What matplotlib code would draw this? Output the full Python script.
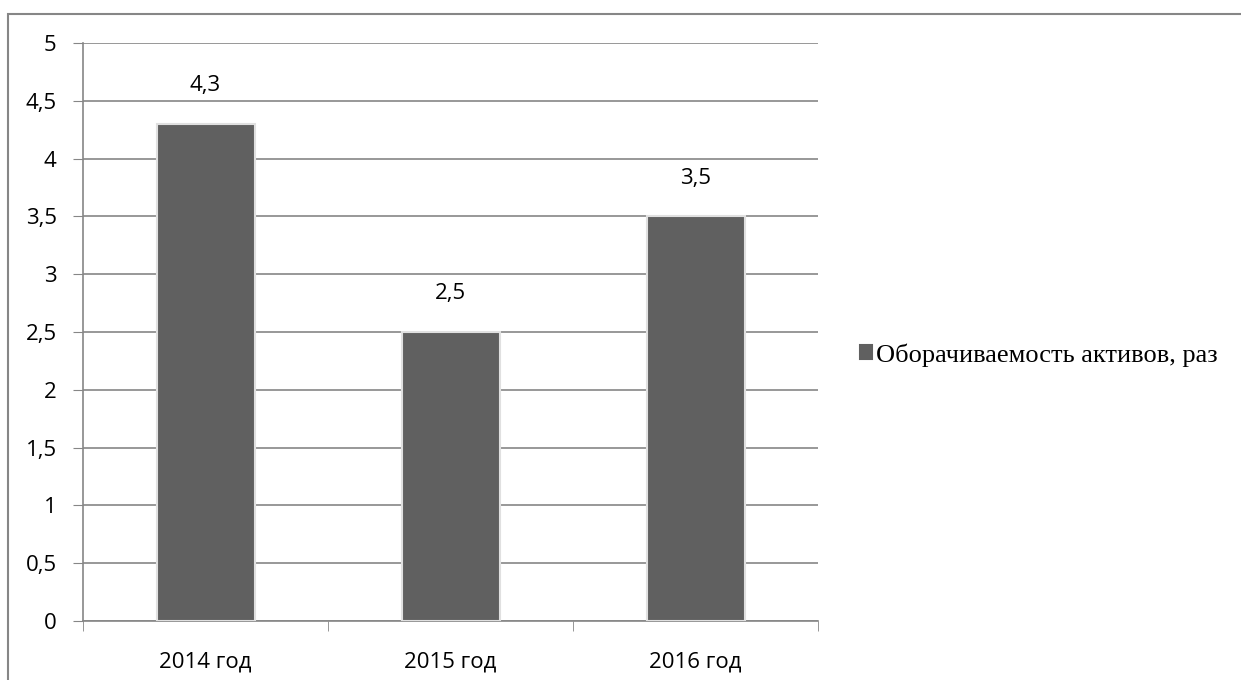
import matplotlib.pyplot as plt
from matplotlib.patches import Rectangle

years = ['2014 год', '2015 год', '2016 год']
values = [4.3, 2.5, 3.5]
yticks = [0, 0.5, 1, 1.5, 2, 2.5, 3, 3.5, 4, 4.5, 5]
series_name = 'Оборачиваемость активов, раз'

def fmt(v):
    return f'{v:g}'.replace('.', ',')

fig = plt.figure(figsize=(12.41, 6.80), dpi=100)
ax = fig.add_axes([83 / 1241, 1 - 621 / 680, 735 / 1241, 578 / 680])

# рамка вокруг диаграммы
fig.patches.append(Rectangle((8 / 1241, -0.01), 1.1, 1 - 14 / 680 + 0.01,
                             transform=fig.transFigure, fill=False,
                             edgecolor='#868686', linewidth=1.5))

x = range(len(years))
bars = ax.bar(x, values, width=0.4, color='#606060', edgecolor='#e0e0e0',
              linewidth=1.5, label=series_name, zorder=3)

for xi, v in zip(x, values):
    ax.text(xi, v + 0.24, fmt(v), ha='center', va='bottom',
            fontsize=16, family='Open Sans')

ax.set_xlim(-0.5, 2.5)
ax.set_ylim(0, 5)
ax.set_yticks(yticks)
ax.set_yticklabels([fmt(t) for t in yticks], family='Open Sans', fontsize=16)
ax.set_xticks(list(x))
ax.set_xticklabels(years, family='Open Sans', fontsize=16)
ax.set_xticks([-0.5, 0.5, 1.5, 2.5], minor=True)
ax.tick_params(axis='x', which='major', length=0, pad=22)
ax.tick_params(axis='x', which='minor', length=7, color='#868686')
ax.tick_params(axis='y', length=7, color='#868686', pad=12)

ax.grid(axis='y', color='#868686', linewidth=1.2, zorder=0)
for s in ['top', 'right']:
    ax.spines[s].set_visible(False)
for s in ['left', 'bottom']:
    ax.spines[s].set_color('#868686')
    ax.spines[s].set_linewidth(1.2)

leg = fig.legend(handles=[bars], labels=[series_name], loc='center left',
                 bbox_to_anchor=(836 / 1241, 1 - 355 / 680), frameon=False,
                 prop={'family': 'Liberation Serif', 'size': 19},
                 handlelength=0.45, handleheight=0.45, handletextpad=0.15)
for h in leg.legend_handles:
    h.set_edgecolor('#606060')

fig.savefig('out.png', dpi=100)
